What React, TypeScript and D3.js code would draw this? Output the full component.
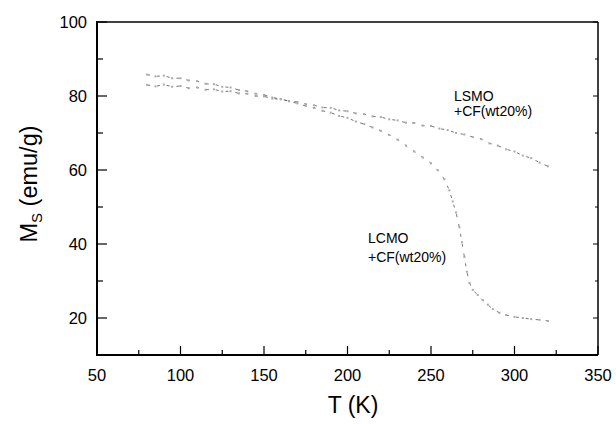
import React from 'react';
import * as d3 from 'd3';

// LSMO + CF(wt20%)
const lsmoT = [80, 85, 90, 95, 100, 105, 110, 115, 120, 125, 130, 135, 140, 145, 150, 155, 160, 165, 170, 175, 180, 185, 190, 195, 200, 205, 210, 215, 220, 225, 230, 235, 240, 245, 250, 255, 260, 265, 270, 275, 280, 285, 290, 295, 300, 305, 310, 315, 320];
const lsmoM = [83.0, 82.6, 83.1, 82.5, 82.7, 82.1, 82.3, 81.7, 81.8, 81.2, 81.3, 80.7, 80.6, 80.0, 79.9, 79.3, 79.1, 78.6, 78.4, 77.8, 77.5, 76.9, 76.8, 76.1, 75.9, 75.3, 75.1, 74.5, 74.3, 73.7, 73.4, 72.8, 72.7, 72.0, 71.9, 71.2, 70.8, 70.0, 69.6, 68.9, 68.4, 67.2, 66.6, 65.6, 65.0, 63.9, 63.2, 62.0, 61.0];

// LCMO + CF(wt20%)
const lcmoT = [80, 85, 90, 95, 100, 105, 110, 115, 120, 125, 130, 135, 140, 145, 150, 155, 160, 165, 170, 175, 180, 185, 190, 195, 200, 205, 210, 215, 220, 225, 230, 235, 240, 245, 250, 254, 258, 261, 263, 265, 267, 268.5, 270, 271.5, 273, 275, 278, 281, 284, 287, 291, 295, 300, 305, 310, 315, 320];
const lcmoM = [85.8, 85.3, 85.5, 84.8, 84.8, 84.2, 84.0, 83.3, 83.2, 82.5, 82.3, 81.6, 81.3, 80.6, 80.3, 79.6, 79.2, 78.6, 78.0, 77.3, 76.8, 76.0, 75.5, 74.6, 74.1, 73.1, 72.4, 71.5, 70.6, 69.5, 68.2, 66.6, 65.0, 63.4, 61.8, 60.0, 57.5, 54.5, 51.5, 48.5, 44.5, 40.5, 36.5, 32.5, 29.5, 27.6, 26.2, 24.8, 23.6, 22.4, 21.4, 20.8, 20.3, 20.0, 19.7, 19.5, 19.2];

const xTicks = [50, 100, 150, 200, 250, 300, 350];
const xMinor = [75, 125, 175, 225, 275, 325];
const yTicks = [20, 40, 60, 80, 100];
const yMinor = [30, 50, 70, 90];

const W = 616;
const H = 424;
const left = 97;
const right = 598;
const top = 22;
const bottom = 355;
const font = 'Liberation Sans, Arial, sans-serif';

export default function App() {
  const x = d3.scaleLinear().domain([50, 350]).range([left, right]);
  const y = d3.scaleLinear().domain([10, 100]).range([bottom, top]);

  const series = [
    { t: lsmoT, m: lsmoM },
    { t: lcmoT, m: lcmoM },
  ];

  const line = d3.line<[number, number]>()
    .x(d => x(d[0]))
    .y(d => y(d[1]));

  return (
    <svg width={W} height={H} style={{ position: 'absolute', left: 0, top: 0, background: '#fff' }}>
      {series.map((s, i) => {
        const pts: [number, number][] = s.t.map((t, j) => [t, s.m[j]]);
        return (
          <g key={i}>
            <path d={line(pts) || ''} fill="none" stroke="#666" strokeWidth={0.9} strokeDasharray="3,7" />
            {pts.map((p, j) => (
              <rect key={j} x={x(p[0]) - 1} y={y(p[1]) - 1} width={2} height={2} fill="#aaa" />
            ))}
          </g>
        );
      })}

      {/* frame */}
      <line x1={left} x2={right} y1={top} y2={top} stroke="#000" strokeWidth={1.3} />
      <line x1={right} x2={right} y1={top} y2={bottom} stroke="#000" strokeWidth={1.5} />
      <line x1={left} x2={left} y1={top - 1} y2={bottom + 1} stroke="#000" strokeWidth={2} />
      <line x1={left - 1} x2={right} y1={bottom} y2={bottom} stroke="#000" strokeWidth={2} />

      {/* x ticks */}
      {xTicks.map(t => (
        <g key={'x' + t}>
          <line x1={x(t)} x2={x(t)} y1={bottom} y2={bottom - 9} stroke="#000" strokeWidth={1.2} />
          <text x={x(t)} y={381} textAnchor="middle" fontFamily={font} fontSize={16.5}>{t}</text>
        </g>
      ))}
      {xMinor.map(t => (
        <line key={'xm' + t} x1={x(t)} x2={x(t)} y1={bottom} y2={bottom - 5} stroke="#000" strokeWidth={1.2} />
      ))}

      {/* y ticks */}
      {yTicks.map(t => (
        <g key={'y' + t}>
          <line x1={left} x2={left + 10} y1={y(t)} y2={y(t)} stroke="#000" strokeWidth={1.2} />
          <line x1={right} x2={right - 5} y1={y(t)} y2={y(t)} stroke="#000" strokeWidth={1} />
          <text x={87} y={y(t) + 6} textAnchor="end" fontFamily={font} fontSize={16.5}>{t}</text>
        </g>
      ))}
      {yMinor.map(t => (
        <g key={'ym' + t}>
          <line x1={left} x2={left + 6} y1={y(t)} y2={y(t)} stroke="#000" strokeWidth={1.2} />
          <line x1={right} x2={right - 3} y1={y(t)} y2={y(t)} stroke="#000" strokeWidth={1} />
        </g>
      ))}

      {/* axis titles */}
      <text x={353} y={413} textAnchor="middle" fontFamily={font} fontSize={23}>T (K)</text>
      <text transform="translate(37,184) rotate(-90)" textAnchor="middle" fontFamily={font} fontSize={23.5}>
        M<tspan fontSize={15} dy={5}>S</tspan><tspan dy={-5}> (emu/g)</tspan>
      </text>

      {/* annotations */}
      <text x={454} y={101} fontFamily={font} fontSize={14}>LSMO</text>
      <text x={454} y={116} fontFamily={font} fontSize={14}>+CF(wt20%)</text>
      <text x={368} y={243} fontFamily={font} fontSize={14}>LCMO</text>
      <text x={368} y={262} fontFamily={font} fontSize={14}>+CF(wt20%)</text>
    </svg>
  );
}
